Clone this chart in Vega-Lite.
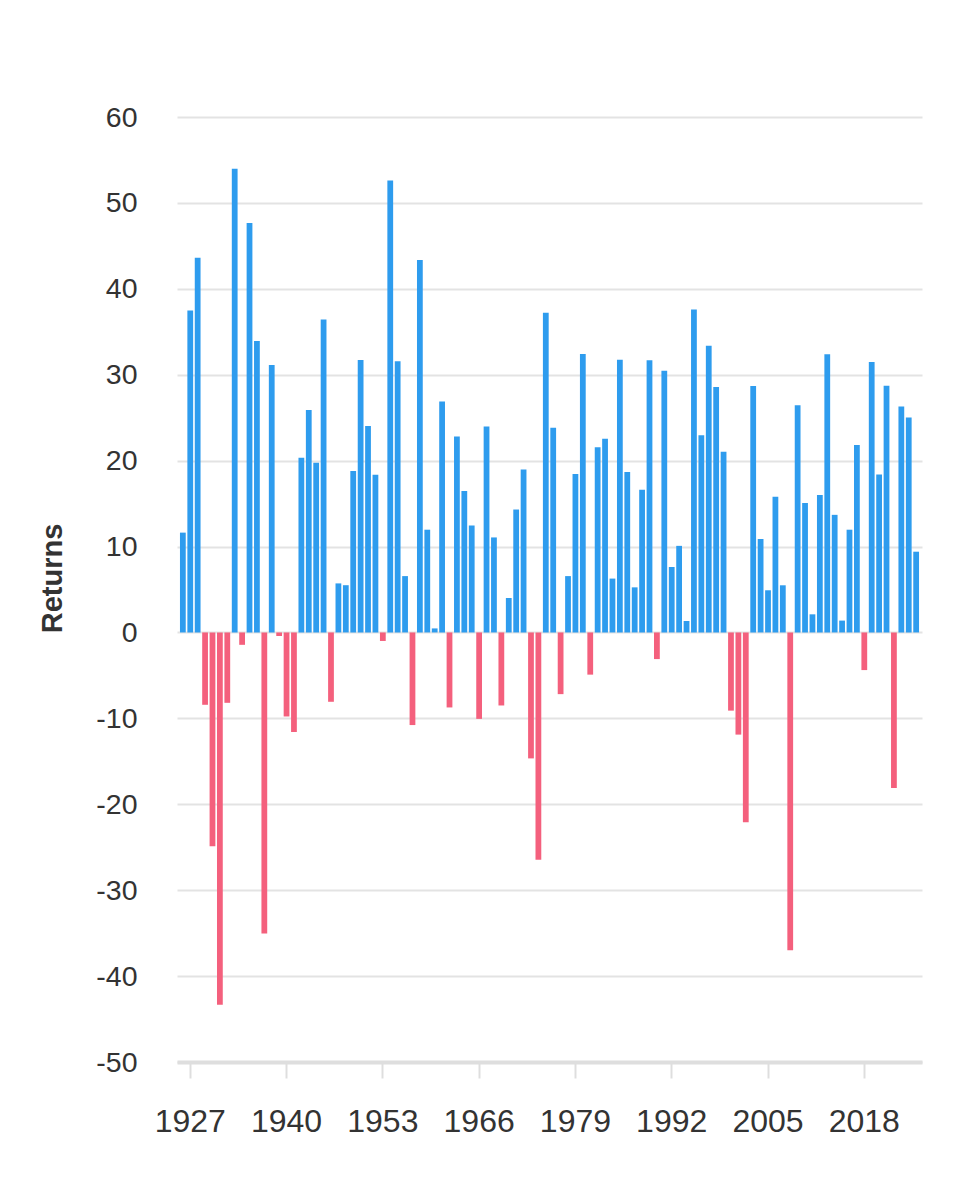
{
  "$schema": "https://vega.github.io/schema/vega-lite/v6.json",
  "width": 745,
  "height": 945,
  "autosize": {"type": "none"},
  "padding": {"left": 177, "top": 117, "right": 53, "bottom": 138},
  "background": "white",
  "config": {
    "font": "Liberation Sans",
    "view": {"stroke": null}
  },
  "data": {
    "values": [
      {"year": 1926, "r": 11.62}, {"year": 1927, "r": 37.49}, {"year": 1928, "r": 43.61}, {"year": 1929, "r": -8.42},
      {"year": 1930, "r": -24.90}, {"year": 1931, "r": -43.34}, {"year": 1932, "r": -8.19}, {"year": 1933, "r": 53.99},
      {"year": 1934, "r": -1.44}, {"year": 1935, "r": 47.67}, {"year": 1936, "r": 33.92}, {"year": 1937, "r": -35.03},
      {"year": 1938, "r": 31.12}, {"year": 1939, "r": -0.41}, {"year": 1940, "r": -9.78}, {"year": 1941, "r": -11.59},
      {"year": 1942, "r": 20.34}, {"year": 1943, "r": 25.90}, {"year": 1944, "r": 19.75}, {"year": 1945, "r": 36.44},
      {"year": 1946, "r": -8.07}, {"year": 1947, "r": 5.71}, {"year": 1948, "r": 5.50}, {"year": 1949, "r": 18.79},
      {"year": 1950, "r": 31.71}, {"year": 1951, "r": 24.02}, {"year": 1952, "r": 18.37}, {"year": 1953, "r": -0.99},
      {"year": 1954, "r": 52.62}, {"year": 1955, "r": 31.56}, {"year": 1956, "r": 6.56}, {"year": 1957, "r": -10.78},
      {"year": 1958, "r": 43.36}, {"year": 1959, "r": 11.96}, {"year": 1960, "r": 0.47}, {"year": 1961, "r": 26.89},
      {"year": 1962, "r": -8.73}, {"year": 1963, "r": 22.80}, {"year": 1964, "r": 16.48}, {"year": 1965, "r": 12.45},
      {"year": 1966, "r": -10.06}, {"year": 1967, "r": 23.98}, {"year": 1968, "r": 11.06}, {"year": 1969, "r": -8.50},
      {"year": 1970, "r": 4.01}, {"year": 1971, "r": 14.31}, {"year": 1972, "r": 18.98}, {"year": 1973, "r": -14.66},
      {"year": 1974, "r": -26.47}, {"year": 1975, "r": 37.20}, {"year": 1976, "r": 23.84}, {"year": 1977, "r": -7.18},
      {"year": 1978, "r": 6.56}, {"year": 1979, "r": 18.44}, {"year": 1980, "r": 32.42}, {"year": 1981, "r": -4.91},
      {"year": 1982, "r": 21.55}, {"year": 1983, "r": 22.56}, {"year": 1984, "r": 6.27}, {"year": 1985, "r": 31.73},
      {"year": 1986, "r": 18.67}, {"year": 1987, "r": 5.25}, {"year": 1988, "r": 16.61}, {"year": 1989, "r": 31.69},
      {"year": 1990, "r": -3.10}, {"year": 1991, "r": 30.47}, {"year": 1992, "r": 7.62}, {"year": 1993, "r": 10.08},
      {"year": 1994, "r": 1.32}, {"year": 1995, "r": 37.58}, {"year": 1996, "r": 22.96}, {"year": 1997, "r": 33.36},
      {"year": 1998, "r": 28.58}, {"year": 1999, "r": 21.04}, {"year": 2000, "r": -9.10}, {"year": 2001, "r": -11.89},
      {"year": 2002, "r": -22.10}, {"year": 2003, "r": 28.68}, {"year": 2004, "r": 10.88}, {"year": 2005, "r": 4.91},
      {"year": 2006, "r": 15.79}, {"year": 2007, "r": 5.49}, {"year": 2008, "r": -37.00}, {"year": 2009, "r": 26.46},
      {"year": 2010, "r": 15.06}, {"year": 2011, "r": 2.11}, {"year": 2012, "r": 16.00}, {"year": 2013, "r": 32.39},
      {"year": 2014, "r": 13.69}, {"year": 2015, "r": 1.38}, {"year": 2016, "r": 11.96}, {"year": 2017, "r": 21.83},
      {"year": 2018, "r": -4.38}, {"year": 2019, "r": 31.49}, {"year": 2020, "r": 18.40}, {"year": 2021, "r": 28.71},
      {"year": 2022, "r": -18.11}, {"year": 2023, "r": 26.29}, {"year": 2024, "r": 25.02}, {"year": 2025, "r": 9.40}
    ]
  },
  "mark": {"type": "bar"},
  "encoding": {
    "x": {
      "field": "year",
      "type": "ordinal",
      "scale": {"paddingInner": 0.22, "paddingOuter": 0.4},
      "axis": {
        "title": null,
        "values": [1927, 1940, 1953, 1966, 1979, 1992, 2005, 2018],
        "labelAngle": 0,
        "labelFontSize": 32,
        "labelColor": "#333333",
        "labelPadding": 28,
        "grid": false,
        "domain": true,
        "domainColor": "#dedede",
        "domainWidth": 4,
        "ticks": true,
        "tickColor": "#dedede",
        "tickWidth": 2,
        "tickSize": 16
      }
    },
    "y": {
      "field": "r",
      "type": "quantitative",
      "scale": {"domain": [-50, 60], "nice": false, "zero": false},
      "axis": {
        "title": "Returns",
        "titleFontSize": 29,
        "titleFontWeight": "bold",
        "titleColor": "#333333",
        "titleX": -125,
        "titleY": 461,
        "titleAngle": -90,
        "titleBaseline": "middle",
        "titleAlign": "center",
        "values": [-50, -40, -30, -20, -10, 0, 10, 20, 30, 40, 50, 60],
        "labelExpr": "'' + datum.value",
        "labelFontSize": 28.5,
        "labelColor": "#333333",
        "labelPadding": 40,
        "ticks": false,
        "tickSize": 0,
        "domain": false,
        "grid": true,
        "gridColor": "#e3e3e3",
        "gridWidth": 2
      }
    },
    "color": {
      "condition": {"test": "datum.r < 0", "value": "#F4607D"},
      "value": "#2E9CEE"
    }
  }
}
